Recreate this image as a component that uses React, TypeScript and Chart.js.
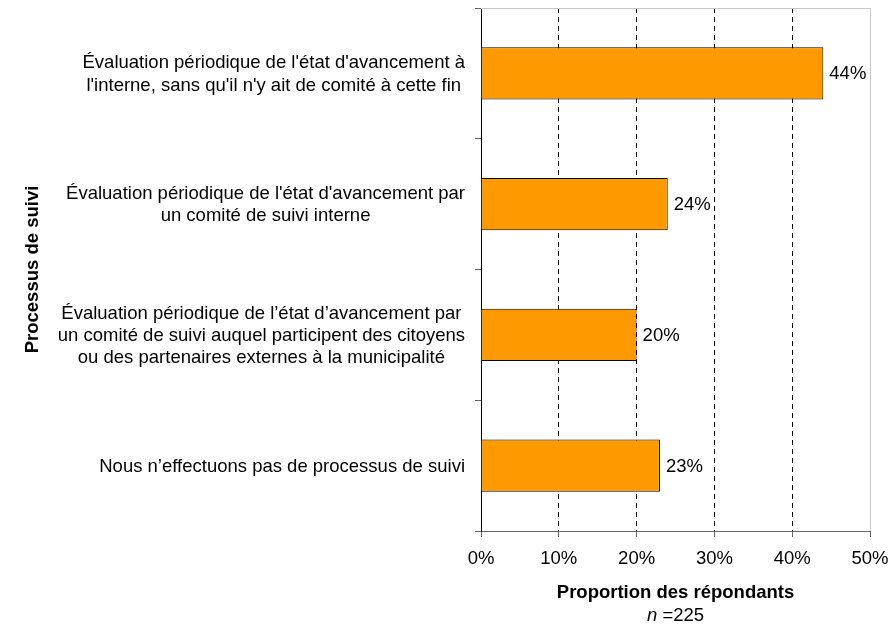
import React, { useEffect, useRef } from "react";
import { Chart, registerables } from "chart.js";

Chart.register(...registerables);

// ---- Data ----
const categories: string[][] = [
  ["Évaluation périodique de l'état d'avancement à", "l'interne, sans qu'il n'y ait de comité à cette fin"],
  ["Évaluation périodique de l'état d'avancement par", "un comité de suivi interne"],
  [
    "Évaluation périodique de l’état d’avancement par",
    "un comité de suivi auquel participent des citoyens",
    "ou des partenaires externes à la municipalité",
  ],
  ["Nous n’effectuons pas de processus de suivi"],
];
const values: number[] = [44, 24, 20, 23];
const xMin = 0;
const xMax = 50;
const xStep = 10;
const yTitle = "Processus de suivi";
const xTitle = "Proportion des répondants";
const noteItalic = "n";
const noteRest = " =225";

const FONT = '"Liberation Sans", Arial, Helvetica, sans-serif';
const FS = 18.5;
const LH = FS * 1.2;
const X_TITLE_PAD = 22;

const catLabelPlugin = {
  id: "catLabels",
  afterDraw(chart: any) {
    const ctx = chart.ctx;
    const ys = chart.scales.y;
    ctx.save();
    ctx.font = `${FS}px ${FONT}`;
    ctx.fillStyle = "#000";
    ctx.textAlign = "center";
    ctx.textBaseline = "middle";
    const right = ys.right - 16;
    categories.forEach((lines, i) => {
      const w = Math.max(...lines.map((l) => ctx.measureText(l).width));
      const cx = right - w / 2;
      const cy = ys.getPixelForValue(i) + 1;
      lines.forEach((l, j) => {
        ctx.fillText(l, cx, cy + (j - (lines.length - 1) / 2) * LH);
      });
    });
    ctx.restore();
  },
};

const valueLabelPlugin = {
  id: "valueLabels",
  afterDatasetsDraw(chart: any) {
    const ctx = chart.ctx;
    const meta = chart.getDatasetMeta(0);
    ctx.save();
    ctx.font = `${FS}px ${FONT}`;
    ctx.fillStyle = "#000";
    ctx.textAlign = "left";
    ctx.textBaseline = "middle";
    meta.data.forEach((bar: any, i: number) => {
      ctx.fillText(values[i] + "%", bar.x + 6, bar.y + 1);
    });
    ctx.restore();
  },
};

const frameAndNotePlugin = {
  id: "frameAndNote",
  afterDraw(chart: any) {
    const ctx = chart.ctx;
    const { top, right, bottom, left } = chart.chartArea;
    ctx.save();
    ctx.strokeStyle = "#c8c8c8";
    ctx.lineWidth = 1;
    ctx.beginPath();
    ctx.moveTo(left, Math.round(top) + 0.5);
    ctx.lineTo(Math.round(right) + 0.5, Math.round(top) + 0.5);
    ctx.lineTo(Math.round(right) + 0.5, Math.round(bottom));
    ctx.stroke();

    // note "n =225"
    const xs = chart.scales.x;
    const titleMid = xs.bottom - (LH / 2 + X_TITLE_PAD);
    const y = titleMid + 23;
    ctx.textBaseline = "middle";
    ctx.textAlign = "left";
    ctx.fillStyle = "#000";
    ctx.font = `italic ${FS}px ${FONT}`;
    const wN = ctx.measureText(noteItalic).width;
    ctx.font = `${FS}px ${FONT}`;
    const wR = ctx.measureText(noteRest).width;
    const cx = (left + right) / 2;
    const x0 = cx - (wN + wR) / 2;
    ctx.font = `italic ${FS}px ${FONT}`;
    ctx.fillText(noteItalic, x0, y);
    ctx.font = `${FS}px ${FONT}`;
    ctx.fillText(noteRest, x0 + wN, y);
    ctx.restore();
  },
};

export default function App() {
  const ref = useRef<HTMLCanvasElement | null>(null);

  useEffect(() => {
    if (!ref.current) return;
    const chart = new Chart(ref.current, {
      type: "bar",
      data: {
        labels: categories.map((c) => c.join(" ")),
        datasets: [
          {
            data: values,
            backgroundColor: "#FF9900",
            borderColor: "#000000",
            borderWidth: 1,
            barPercentage: 0.4,
            categoryPercentage: 1,
          },
        ],
      },
      options: {
        indexAxis: "y",
        responsive: false,
        animation: false,
        devicePixelRatio: 1,
        layout: { padding: { left: 0, top: 8, right: 25, bottom: 0 } },
        plugins: {
          legend: { display: false },
          tooltip: { enabled: false },
        },
        scales: {
          x: {
            type: "linear",
            min: xMin,
            max: xMax,
            afterFit: (scale: any) => {
              scale.height = 95;
              scale.paddingLeft = 0;
              scale.paddingRight = 0;
            },
            ticks: {
              stepSize: xStep,
              maxRotation: 0,
              padding: 11,
              color: "#000",
              font: { family: FONT, size: FS },
              callback: (v: any) => v + "%",
            },
            grid: {
              color: (ctx: any) =>
                ctx.tick && (ctx.tick.value === xMin || ctx.tick.value === xMax) ? "rgba(0,0,0,0)" : "#000",
              lineWidth: 1,
              tickColor: "#666",
              tickLength: 6,
              drawTicks: true,
            },
            border: { display: true, color: "#666", width: 1, dash: [5, 4] },
            title: {
              display: true,
              text: xTitle,
              color: "#000",
              font: { family: FONT, size: FS, weight: "bold" },
              padding: { top: X_TITLE_PAD, bottom: X_TITLE_PAD },
            },
          },
          y: {
            type: "category",
            offset: true,
            afterFit: (scale: any) => {
              scale.width = 481;
            },
            ticks: { display: false },
            grid: {
              offset: true,
              drawOnChartArea: false,
              drawTicks: true,
              tickLength: 6,
              tickColor: "#666",
              color: "#666",
            },
            border: { display: true, color: "#000", width: 1 },
            title: {
              display: true,
              text: yTitle,
              color: "#000",
              font: { family: FONT, size: FS, weight: "bold" },
              padding: { top: 22, bottom: 0 },
            },
          },
        },
      } as any,
      plugins: [valueLabelPlugin, catLabelPlugin, frameAndNotePlugin],
    });
    return () => chart.destroy();
  }, []);

  return (
    <div style={{ position: "absolute", left: 0, top: 0, width: 895, height: 626, background: "#fff" }}>
      <canvas ref={ref} width={895} height={626} style={{ display: "block", width: 895, height: 626 }} />
    </div>
  );
}
